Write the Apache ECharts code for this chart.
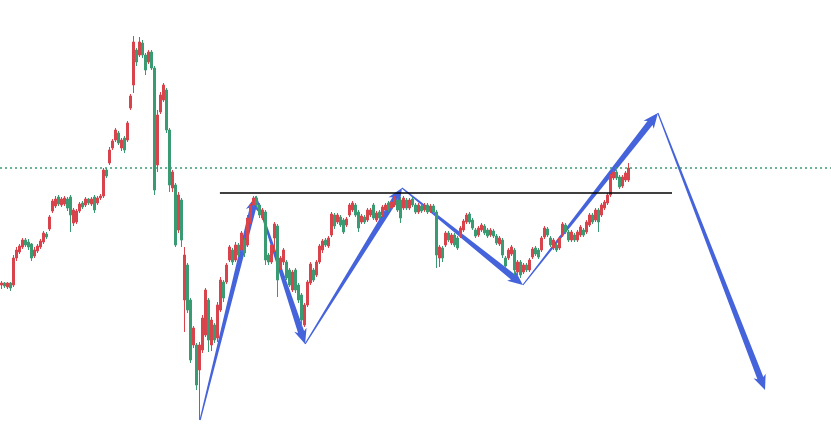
<!DOCTYPE html>
<html>
<head>
<meta charset="utf-8">
<script src="https://cdn.jsdelivr.net/npm/echarts@6/dist/echarts.min.js"></script>
<style>html,body{margin:0;padding:0;background:#fff}#c{width:831px;height:447px}</style>
</head>
<body>
<div id="c"></div>
<script>
// Candles: [open, close, low, high]
const candles = [
[71.5,71.7,71.1,71.9],[71.7,71.4,71.2,71.8],[71.3,71.7,71.1,71.8],[71.7,71.2,70.9,71.8],
[71.5,74.2,71.3,74.5],[74.2,75.0,73.9,75.3],[74.8,75.4,74.6,75.6],[75.3,76.0,75.1,76.2],
[76.0,75.5,75.3,76.2],[75.8,75.3,75.0,76.1],[75.6,74.2,73.9,75.7],[74.4,75.0,74.2,75.3],
[74.9,75.4,74.7,75.6],[75.3,75.9,75.1,76.1],[75.8,76.7,75.6,76.9],[76.6,76.3,76.1,76.8],
[77.1,78.3,76.9,78.5],[78.9,79.9,78.7,80.1],[79.4,80.1,79.2,80.4],[80.3,79.6,79.4,80.5],
[79.5,80.1,79.3,80.3],[79.6,80.2,79.4,80.4],[80.1,79.2,78.9,80.3],[80.3,78.5,76.8,80.5],
[77.7,79.0,77.4,79.2],[77.8,78.9,77.6,79.1],[78.9,79.6,78.7,79.8],[79.7,79.3,79.1,79.9],
[79.5,80.1,79.3,80.3],[80.1,79.7,79.5,80.2],[79.6,80.1,79.4,80.3],[80.3,79.0,78.7,80.5],
[79.7,80.2,79.5,80.4],[80.2,80.4,80.0,80.6],[80.4,83.0,80.2,83.2],[83.0,82.4,82.2,83.2],
[83.7,85.0,83.5,85.3],[85.2,85.9,85.0,86.1],[86.0,87.0,85.8,87.2],[86.7,85.7,85.5,86.9],
[85.2,86.0,84.9,86.2],[86.2,85.0,84.7,86.4],[86.0,87.7,85.8,87.9],[89.2,90.4,89.0,90.6],
[91.5,95.8,90.7,96.4],[95.0,93.8,93.4,95.2],[94.5,95.8,94.3,96.3],[95.7,94.5,94.2,96.0],
[94.5,93.0,92.5,94.7],[93.8,94.8,93.6,95.0],[94.8,93.2,93.0,95.0],[93.2,81.0,80.5,93.4],
[83.5,88.5,82.8,89.0],[88.8,90.5,88.6,90.8],[90.0,91.5,89.8,91.7],[91.0,87.0,86.7,91.2],
[87.0,81.5,80.8,87.2],[81.2,82.8,80.8,83.0],[81.5,75.5,75.3,81.7],[77.0,80.5,76.7,80.8],
[80.0,76.0,75.3,80.2],[70.0,74.5,66.8,75.3],[73.5,69.0,68.7,73.7],[70.0,64.0,63.7,70.2],
[65.5,67.2,65.2,67.4],[65.5,61.5,61.0,65.7],[63.0,65.5,58.0,65.8],[65.0,68.2,64.7,68.5],
[66.5,71.0,66.3,71.2],[70.0,66.0,64.8,70.2],[65.5,68.0,64.9,68.3],[67.5,66.0,65.7,67.7],
[66.2,69.5,65.8,69.8],[69.0,72.0,68.8,72.3],[71.8,70.2,69.8,72.0],[71.8,73.5,71.6,73.7],
[74.0,75.3,73.8,75.5],[75.0,73.8,73.5,75.2],[74.0,75.5,73.8,75.8],[75.5,74.5,74.3,75.7],
[75.0,76.7,74.8,76.9],[76.0,74.7,74.3,76.2],[75.5,78.2,75.3,78.5],[77.8,79.4,77.6,79.6],
[79.5,80.2,79.3,80.4],[80.2,79.5,79.3,80.4],[79.5,78.5,78.2,79.7],[78.2,79.0,78.0,79.2],
[78.8,74.0,73.5,79.0],[74.5,73.8,73.5,74.7],[73.8,75.5,73.6,75.7],[76.2,77.6,74.8,77.8],
[77.4,72.0,70.3,77.6],[73.2,74.2,73.0,74.4],[73.8,75.0,73.5,75.2],[73.8,72.2,72.0,74.0],
[73.0,71.5,71.3,73.2],[71.0,72.8,70.8,73.0],[73.0,71.0,70.7,73.2],[71.5,70.0,69.7,71.7],
[70.5,68.0,67.3,70.7],[67.5,69.5,67.3,69.7],[69.5,71.8,69.3,72.0],[71.7,73.6,71.5,73.8],
[73.0,72.0,71.8,73.2],[72.5,73.8,72.3,74.0],[73.8,75.4,73.6,75.6],[75.0,75.9,74.7,76.1],
[76.0,75.5,75.3,76.2],[75.4,76.2,75.2,76.4],[76.5,78.6,76.3,78.8],[78.5,77.4,77.1,78.7],
[77.8,78.5,77.6,78.7],[78.3,77.5,77.3,78.5],[78.0,76.8,76.6,78.2],[77.5,78.1,77.3,78.3],
[78.5,79.5,78.3,79.7],[79.0,79.7,78.8,79.9],[79.5,78.5,78.3,79.7],[78.8,77.2,76.8,79.0],
[77.8,78.4,77.6,78.6],[78.3,77.8,77.6,78.5],[78.0,79.0,77.8,79.2],[78.5,79.0,78.3,79.2],
[79.5,78.2,78.0,79.7],[78.0,78.7,77.8,78.9],[78.8,78.2,78.0,79.0],[78.5,79.3,78.3,79.5],
[79.0,79.5,78.8,79.7],[79.7,79.0,78.8,79.9],[79.2,79.8,79.0,80.0],[79.5,80.2,79.3,80.4],
[80.0,79.0,78.8,80.2],[80.0,78.2,77.7,80.3],[79.2,80.2,79.0,80.4],[80.0,79.2,79.0,80.2],
[79.2,80.0,79.0,80.2],[80.1,79.5,79.3,80.3],[79.5,78.8,78.6,79.7],[78.8,79.5,78.6,79.7],
[79.4,78.9,78.7,79.6],[79.0,79.5,78.8,79.7],[79.5,78.8,78.6,79.7],[78.9,79.4,78.7,79.6],
[79.4,78.8,78.5,79.6],[78.8,74.5,73.2,79.0],[74.2,75.3,73.3,75.5],[75.2,74.2,73.8,75.4],
[75.5,76.7,75.3,76.9],[76.7,76.0,75.8,76.9],[75.7,76.5,75.5,76.7],[76.5,75.5,75.3,76.7],
[76.2,75.2,75.0,76.4],[76.4,77.2,76.2,77.4],[77.0,77.9,76.8,78.1],[77.8,78.5,77.6,78.7],
[78.6,77.8,77.6,78.8],[78.0,77.2,77.0,78.2],[77.0,76.4,76.2,77.2],[76.5,77.2,76.3,77.4],
[77.0,77.5,76.8,77.7],[77.4,76.7,76.5,77.6],[77.0,76.4,76.2,77.2],[76.5,77.0,76.3,77.2],
[76.9,76.4,76.2,77.1],[76.4,75.7,75.5,76.6],[75.6,76.2,75.4,76.4],[76.0,74.5,74.2,76.2],
[74.2,73.4,73.2,74.4],[74.2,75.0,74.0,75.2],[74.6,75.3,74.4,75.5],[75.0,73.0,72.5,75.2],
[72.8,73.8,72.5,74.0],[73.8,72.5,72.2,74.0],[72.8,73.5,72.6,73.7],[73.5,73.0,72.8,73.7],
[73.0,74.0,72.8,74.2],[74.3,75.1,74.1,75.3],[75.2,74.6,74.4,75.4],[75.0,74.3,74.1,75.2],
[75.0,76.2,74.8,76.4],[76.3,77.2,76.1,77.4],[77.1,76.5,76.3,77.3],[76.2,75.5,75.3,76.4],
[75.2,76.0,75.0,76.2],[75.5,75.0,74.8,75.7],[75.2,76.2,75.0,76.4],[76.5,77.6,76.3,77.8],
[77.5,76.8,76.6,77.7],[76.8,76.0,75.8,77.0],[76.0,76.8,75.8,77.0],[76.5,76.0,75.8,76.7],
[76.0,76.8,75.8,77.0],[76.5,77.3,76.3,77.5],[77.0,76.5,76.3,77.2],[76.8,77.8,76.6,78.0],
[77.5,78.5,77.3,78.7],[78.5,77.8,77.6,78.7],[78.0,79.0,77.8,79.2],[79.0,77.8,76.8,79.2],
[78.5,79.5,78.3,79.7],[79.2,79.8,79.0,80.0],[79.7,80.5,79.5,80.7],[80.5,82.4,80.3,82.6],
[82.2,82.8,82.0,83.0],[82.8,82.2,82.0,83.0],[82.3,81.3,81.1,82.5],[81.4,82.3,81.2,82.5],
[82.0,82.7,81.8,82.9],[82.0,83.2,81.8,83.7]
];
const totalSlots = 277;              // candle slots across the full width (incl. empty future)
const categories = Array.from({length: totalSlots}, (_, i) => 'D' + (i + 1));
const lastPrice = 83.2;
// resistance level: [startSlot, endSlot, price]
const resistance = [72.8, 223.5, 80.7];
// zigzag projection pivots: [slot, price]
const pivots = [
  [66.2, 58.0], [84.8, 80.4], [101.2, 65.6], [133.5, 81.2],
  [173.8, 71.5], [218.8, 88.7], [254.5, 61.0]
];
const yMin = 55.3, yMax = 100;

const segments = [];
for (let i = 0; i + 1 < pivots.length; i++) {
  segments.push([pivots[i][0], pivots[i][1], pivots[i+1][0], pivots[i+1][1]]);
}

const UP = '#d9434c', DOWN = '#3a9b72', ARROW = '#3b5bd9';

function renderArrow(params, api) {
  const a = api.coord([api.value(0), api.value(1)]);
  const b = api.coord([api.value(2), api.value(3)]);
  const dx = b[0] - a[0], dy = b[1] - a[1];
  const len = Math.sqrt(dx*dx + dy*dy);
  const ux = dx/len, uy = dy/len, nx = -uy, ny = ux;
  const L = 15, H = 6.5, w0 = 0.6, w1 = 3.2;
  const e = [b[0] - ux*L*0.85, b[1] - uy*L*0.85];
  const pts = [
    [a[0] + nx*w0, a[1] + ny*w0],
    [e[0] + nx*w1, e[1] + ny*w1],
    [e[0] + nx*H - ux*L*0.15, e[1] + ny*H - uy*L*0.15],
    [b[0], b[1]],
    [e[0] - nx*H - ux*L*0.15, e[1] - ny*H - uy*L*0.15],
    [e[0] - nx*w1, e[1] - ny*w1],
    [a[0] - nx*w0, a[1] - ny*w0]
  ];
  return {type: 'polygon', shape: {points: pts}, style: {fill: ARROW, opacity: 0.95}};
}

const chart = echarts.init(document.getElementById('c'), null, {renderer: 'canvas'});
chart.setOption({
  animation: false,
  backgroundColor: '#ffffff',
  grid: {left: 0, right: 0, top: 0, bottom: 0},
  xAxis: [
    {type: 'category', data: categories, show: false, boundaryGap: true},
    {type: 'value', min: -0.5, max: totalSlots - 0.5, show: false}
  ],
  yAxis: {type: 'value', min: yMin, max: yMax, show: false, splitLine: {show: false}},
  series: [
    {
      type: 'candlestick',
      data: candles,
      barWidth: 1.6,
      itemStyle: {color: UP, color0: DOWN, borderColor: UP, borderColor0: DOWN, borderWidth: 1},
      markLine: {
        silent: true, symbol: 'none', label: {show: false},
        lineStyle: {color: DOWN, type: [2, 3], width: 1.5},
        data: [{yAxis: lastPrice}]
      }
    },
    {
      type: 'line', xAxisIndex: 1, symbol: 'none', silent: true,
      data: [[resistance[0], resistance[2]], [resistance[1], resistance[2]]],
      lineStyle: {color: '#000', width: 1.5}
    },
    {
      type: 'custom', xAxisIndex: 1, silent: true,
      renderItem: renderArrow,
      encode: {x: [0, 2], y: [1, 3]},
      data: segments
    }
  ]
});
</script>
</body>
</html>
